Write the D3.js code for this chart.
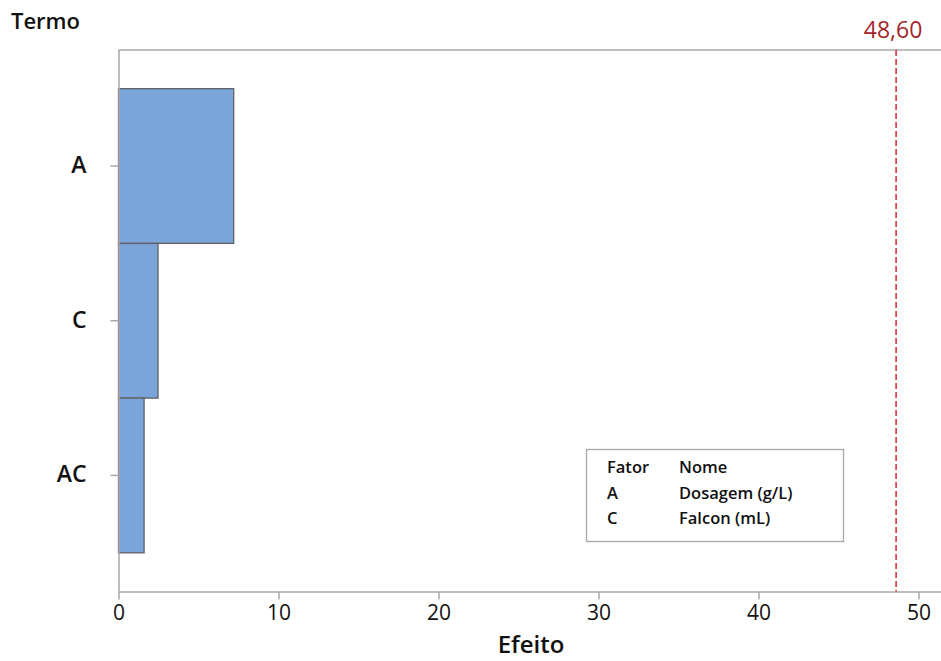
<!DOCTYPE html>
<html>
<head>
<meta charset="utf-8">
<script src="https://cdn.jsdelivr.net/npm/d3@7/dist/d3.min.js"></script>
<style>
  html, body { margin: 0; padding: 0; background: #fff; }
  svg { display: block; font-family: "Open Sans", "Noto Sans", sans-serif; }
</style>
</head>
<body>
<svg id="chart" width="941" height="661"></svg>
<script>
// Pareto of effects
const terms = ["A", "C", "AC"];
const effects = [7.2, 2.47, 1.6];
const refValue = 48.60;
const refLabel = "48,60";
const xTicks = [0, 10, 20, 30, 40, 50];
const legendHeader = ["Fator", "Nome"];
const legendFactors = ["A", "C"];
const legendNames = ["Dosagem (g/L)", "Falcon (mL)"];

const svg = d3.select("#chart");
const plot = { left: 118.5, top: 50, bottom: 591.5 };
const FONT = "\"Open Sans\", sans-serif";

const x = d3.scaleLinear().domain([0, 51.5]).range([plot.left, plot.left + 51.5 * 16]);
const y = d3.scaleBand().domain(terms)
  .range([plot.top, plot.bottom]).paddingInner(0).paddingOuter(0.25);

// frame: top border
svg.append("line").attr("x1", plot.left).attr("x2", 941)
  .attr("y1", plot.top).attr("y2", plot.top)
  .attr("stroke", "#a8a8a8").attr("stroke-width", 1.5);

// bars
svg.append("g").selectAll("rect").data(terms).join("rect")
  .attr("x", x(0))
  .attr("y", d => y(d))
  .attr("width", (d, i) => x(effects[i]) - x(0))
  .attr("height", y.bandwidth())
  .attr("fill", "#7BA4D9")
  .attr("stroke", "#5f6166")
  .attr("stroke-width", 1.3);

// x axis
const xAxis = svg.append("g").attr("transform", `translate(0,${plot.bottom})`)
  .call(d3.axisBottom(x).tickValues(xTicks).tickSize(8).tickPadding(6));
xAxis.select(".domain").attr("stroke", "#a8a8a8").attr("stroke-width", 1.5)
  .attr("d", `M${plot.left},0.5H941`);
xAxis.selectAll(".tick line").attr("stroke", "#a8a8a8").attr("stroke-width", 1.5)
  .attr("y1", 0).attr("y2", 8);
xAxis.selectAll(".tick text").attr("font-size", 21).attr("font-weight", 500)
  .attr("fill", "#111").attr("font-family", FONT).attr("dy", "0.71em");

// y axis
const yAxis = svg.append("g").attr("transform", `translate(${plot.left},0)`)
  .call(d3.axisLeft(y).tickSize(8));
yAxis.select(".domain").attr("stroke", "#a8a8a8").attr("stroke-width", 1.5)
  .attr("d", `M0.5,${plot.top}V${plot.bottom}`);
yAxis.selectAll(".tick line").attr("stroke", "#a8a8a8").attr("stroke-width", 1.5);
yAxis.selectAll(".tick text").attr("font-size", 23).attr("font-weight", 600)
  .attr("fill", "#111").attr("font-family", FONT)
  .attr("text-anchor", "end").attr("x", -32).attr("dy", "0.3em");

// reference line
svg.append("line")
  .attr("x1", x(refValue)).attr("x2", x(refValue))
  .attr("y1", plot.top).attr("y2", plot.bottom)
  .attr("stroke", "#d7262c").attr("stroke-width", 1.5)
  .attr("stroke-dasharray", "6,3");
svg.append("text").attr("x", x(refValue) - 3).attr("y", 38)
  .attr("text-anchor", "middle").attr("font-size", 23).attr("font-weight", 500)
  .attr("fill", "#a3262a").text(refLabel);

// axis titles
svg.append("text").attr("x", 11).attr("y", 29)
  .attr("font-size", 22).attr("font-weight", 600).attr("fill", "#111").text("Termo");
svg.append("text").attr("x", 531).attr("y", 653).attr("text-anchor", "middle")
  .attr("font-size", 24).attr("font-weight", 600).attr("fill", "#111").text("Efeito");

// legend box
const lg = svg.append("g");
lg.append("rect").attr("x", 586.5).attr("y", 449.5).attr("width", 257).attr("height", 92)
  .attr("fill", "#fff").attr("stroke", "#a8a8a8").attr("stroke-width", 1.3);
const rowsY = [473, 499, 524];
const col1 = 607, col2 = 679;
const rows = [legendHeader].concat(legendFactors.map((f, i) => [f, legendNames[i]]));
rows.forEach((r, i) => {
  lg.append("text").attr("x", col1).attr("y", rowsY[i]).attr("font-size", 16.5)
    .attr("font-weight", 600).attr("fill", "#111").text(r[0]);
  lg.append("text").attr("x", col2).attr("y", rowsY[i]).attr("font-size", 16.5)
    .attr("font-weight", 600).attr("fill", "#111").text(r[1]);
});
</script>
</body>
</html>
